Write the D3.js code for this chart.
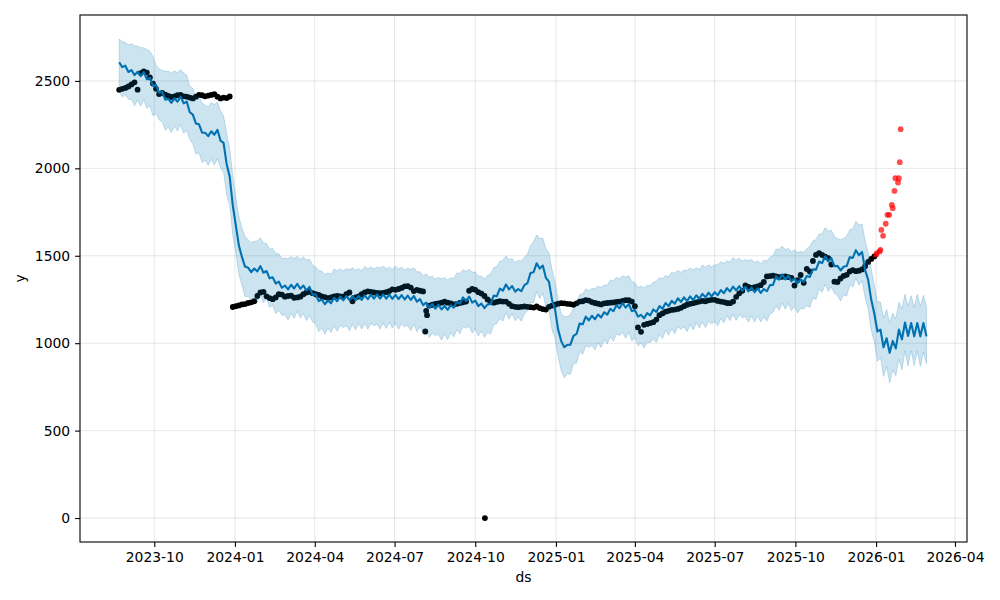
<!DOCTYPE html>
<html><head><meta charset="utf-8">
<script src="https://cdn.jsdelivr.net/npm/d3@7"></script>
<style>
body{margin:0;background:#fff}
svg{display:block}
text{font-family:"DejaVu Sans",sans-serif;font-size:13.9px;fill:#000}
</style>
</head><body>
<svg id="chart" width="1000" height="600"></svg>
<script>
// forecast grid: first ds and spacing (days) of the sampled forecast rows
const firstDs = "2023-08-22";
const stepDays = 3.5;

const yhat = [
2607,2579,2587,2551,2562,2533,2552,2527,2550,2510,
2517,2473,2477,2433,2437,2393,2397,2375,2400,2381,
2410,2372,2382,2321,2307,2256,2252,2204,2204,2184,
2212,2192,2220,2159,2146,2025,1952,1788,1672,1558,
1492,1438,1432,1406,1427,1410,1441,1403,1413,1371,
1377,1341,1352,1317,1330,1308,1334,1313,1340,1311,
1330,1302,1322,1277,1280,1241,1250,1223,1244,1228,
1260,1240,1267,1245,1270,1246,1270,1246,1270,1248,
1274,1252,1278,1255,1279,1255,1279,1255,1278,1253,
1276,1252,1275,1250,1272,1247,1270,1237,1252,1218,
1232,1204,1224,1198,1220,1193,1213,1191,1217,1203,
1237,1226,1262,1241,1267,1232,1244,1212,1227,1201,
1222,1223,1272,1268,1312,1300,1336,1308,1327,1295,
1310,1297,1332,1343,1402,1406,1457,1427,1444,1374,
1352,1248,1192,1078,1012,977,990,992,1042,1053,
1112,1108,1152,1131,1157,1137,1164,1147,1177,1163,
1197,1183,1217,1200,1230,1203,1224,1183,1190,1152,
1162,1143,1172,1159,1193,1179,1212,1197,1230,1212,
1242,1226,1257,1236,1262,1241,1268,1247,1274,1254,
1282,1262,1289,1267,1292,1274,1304,1286,1315,1296,
1324,1302,1327,1301,1322,1296,1318,1292,1314,1288,
1310,1297,1332,1333,1382,1363,1392,1365,1385,1354,
1370,1344,1365,1351,1384,1379,1422,1421,1467,1458,
1497,1468,1487,1441,1442,1416,1437,1441,1492,1488,
1532,1503,1522,1418,1362,1248,1170,1067,1078,977,
1028,945,1013,970,1078,1022,1118,1041,1115,1039,
1115,1039,1115,1039
];

const yhatUpper = [
2740,2725,2720,2706,2712,2700,2700,2690,2690,2680,
2670,2640,2590,2570,2560,2555,2555,2546,2557,2548,
2565,2545,2532,2471,2457,2406,2410,2375,2361,2351,
2377,2365,2379,2328,2302,2200,2114,1959,1829,1725,
1657,1611,1591,1575,1583,1585,1603,1574,1570,1538,
1542,1514,1511,1486,1486,1483,1496,1484,1497,1478,
1495,1475,1481,1446,1436,1416,1412,1394,1401,1395,
1425,1413,1426,1414,1426,1421,1432,1417,1427,1415,
1439,1425,1437,1424,1435,1430,1441,1426,1435,1420,
1441,1425,1434,1419,1428,1422,1432,1408,1409,1385,
1397,1377,1383,1367,1376,1368,1375,1362,1374,1370,
1402,1399,1421,1410,1423,1407,1406,1383,1384,1368,
1387,1396,1431,1437,1468,1475,1498,1479,1484,1462,
1475,1470,1491,1512,1558,1581,1619,1598,1601,1541,
1517,1421,1351,1247,1168,1152,1152,1163,1199,1220,
1277,1281,1311,1300,1313,1312,1326,1318,1334,1330,
1362,1356,1376,1369,1386,1378,1386,1354,1347,1319,
1327,1316,1331,1328,1349,1354,1374,1368,1387,1379,
1407,1399,1416,1405,1418,1416,1430,1418,1431,1421,
1447,1435,1448,1436,1448,1449,1466,1457,1472,1463,
1489,1475,1486,1470,1478,1471,1480,1463,1471,1455,
1475,1470,1491,1502,1538,1538,1554,1536,1542,1521,
1535,1517,1524,1520,1540,1554,1584,1592,1624,1625,
1662,1641,1646,1610,1598,1591,1599,1612,1649,1655,
1697,1676,1681,1587,1518,1423,1332,1238,1235,1144,
1193,1118,1172,1139,1234,1197,1280,1212,1272,1206,
1280,1212,1274,1208
];

const yhatLower = [
2447,2407,2422,2395,2393,2358,2390,2356,2393,2343,
2357,2301,2312,2277,2268,2218,2235,2204,2243,2214,
2250,2200,2217,2165,2138,2081,2090,2033,2047,2017,
2052,2020,2055,2003,1977,1850,1790,1617,1515,1391,
1332,1266,1267,1250,1258,1235,1279,1232,1256,1204,
1217,1169,1187,1161,1161,1133,1172,1142,1183,1144,
1170,1130,1157,1121,1111,1066,1088,1052,1087,1061,
1100,1068,1102,1089,1101,1071,1108,1075,1113,1081,
1114,1080,1113,1099,1110,1080,1117,1084,1121,1086,
1116,1080,1110,1094,1103,1072,1108,1066,1095,1051,
1072,1032,1059,1042,1051,1018,1051,1020,1060,1036,
1077,1054,1097,1085,1098,1057,1082,1041,1070,1034,
1062,1051,1107,1112,1143,1125,1174,1137,1170,1128,
1150,1125,1167,1187,1233,1231,1295,1256,1287,1207,
1192,1076,1027,922,843,802,828,821,885,886,
952,936,987,975,988,962,1002,976,1020,996,
1037,1011,1052,1044,1061,1028,1062,1012,1033,985,
1002,971,1007,1003,1024,1004,1050,1026,1073,1045,
1082,1054,1092,1080,1093,1066,1106,1076,1117,1087,
1122,1090,1124,1111,1123,1099,1142,1115,1158,1129,
1164,1130,1162,1145,1153,1121,1156,1121,1157,1121,
1150,1125,1167,1177,1213,1188,1230,1194,1228,1187,
1210,1172,1200,1195,1215,1204,1260,1250,1310,1291,
1337,1296,1322,1285,1273,1241,1275,1270,1335,1321,
1372,1331,1357,1262,1193,1073,1008,896,921,810,
868,773,848,814,909,847,956,870,958,872,
955,867,950,883
];

// observed history on the same grid (first 247 rows)
const observed = [
2449,2455,2460,2468,2480,2492,2450,2545,2555,2548,
2520,2485,2455,2425,2432,2422,2415,2408,2412,2418,
2420,2412,2410,2405,2400,2410,2420,2418,2412,2416,
2420,2424,2410,2400,2405,2402,2411,1207,1212,1216,
1222,1224,1230,1234,1240,1270,1290,1294,1268,1258,
1252,1262,1280,1278,1266,1270,1272,1260,1262,1266,
1280,1290,1294,1286,1280,1276,1268,1264,1258,1262,
1268,1270,1268,1266,1280,1290,1240,1262,1267,1280,
1290,1296,1294,1290,1287,1286,1288,1292,1298,1308,
1305,1310,1316,1325,1326,1318,1298,1305,1300,1296,
1185,1215,1220,1225,1228,1232,1238,1232,1228,1222,
1225,1230,1234,1238,1300,1310,1305,1292,1284,1270,
1250,1238,1232,1236,1240,1238,1238,1225,1212,1208,
1206,1208,1210,1208,1206,1204,1210,1201,1195,1192,
1208,1215,1220,1226,1229,1228,1225,1224,1220,1228,
1238,1240,1246,1244,1235,1230,1226,1222,1228,1230,
1232,1233,1236,1238,1242,1246,1246,1238,1212,1090,
1065,1105,1110,1115,1120,1135,1160,1170,1180,1185,
1190,1192,1196,1202,1212,1220,1225,1229,1234,1238,
1242,1240,1245,1248,1248,1242,1238,1235,1230,1229,
1238,1265,1285,1300,1330,1322,1316,1320,1325,1332,
1350,1382,1384,1386,1382,1378,1380,1382,1378,1374,
1330,1360,1390,1345,1425,1410,1470,1505,1515,1505,
1495,1487,1450,1352,1350,1370,1385,1391,1410,1418,
1412,1415,1422,1440,1465,1482,1496
];

const outlierDates = ["2024-08-05","2024-08-07","2024-10-12"];
const outlierValues = [1067,1160,0];

const testDates = ["2026-01-01","2026-01-02","2026-01-05","2026-01-06","2026-01-07","2026-01-09",
  "2026-01-12","2026-01-14","2026-01-16","2026-01-19","2026-01-20","2026-01-22",
  "2026-01-23","2026-01-26","2026-01-27","2026-01-28","2026-01-29"];
const testValues = [1506,1515,1525,1534,1648,1614,1683,1734,1734,1791,1772,1871,1944,1919,1944,2035,2224];

const xTickLabels = ["2023-10","2024-01","2024-04","2024-07","2024-10","2025-01","2025-04","2025-07","2025-10","2026-01","2026-04"];
const yTickValues = [0,500,1000,1500,2000,2500];

// ---------- drawing ----------
const W = 1000, H = 600;
const M = {left:80, right:967, top:15, bottom:542};
const svg = d3.select("#chart");
const parse = d3.utcParse("%Y-%m-%d");
const parseTick = d3.utcParse("%Y-%m");
const t0 = parse(firstDs).getTime();
const dayMs = 864e5;
const gridDate = i => new Date(t0 + i * stepDays * dayMs);

const x = d3.scaleUtc()
  .domain([Date.UTC(2023,6,8,7,26), Date.UTC(2026,3,14,16,20)])
  .range([M.left, M.right]);
const y = d3.scaleLinear().domain([-137, 2877]).range([M.bottom, M.top]);

const fc = yhat.map((v,i) => ({ds: gridDate(i), yhat: v, lo: yhatLower[i], hi: yhatUpper[i]}));
const hist = observed.map((v,i) => ({ds: gridDate(i), y: v}));
outlierDates.forEach((d,i) => hist.push({ds: parse(d), y: outlierValues[i]}));
const test = testDates.map((d,i) => ({ds: parse(d), y: testValues[i]}));

const tickDates = xTickLabels.map(parseTick);

// grid
const grid = svg.append("g");
grid.selectAll(".vx").data(tickDates).join("line")
  .attr("x1", d => x(d)).attr("x2", d => x(d))
  .attr("y1", M.top).attr("y2", M.bottom)
  .attr("stroke", "#808080").attr("stroke-opacity", 0.2).attr("stroke-width", 1);
grid.selectAll(".hy").data(yTickValues).join("line")
  .attr("x1", M.left).attr("x2", M.right)
  .attr("y1", d => y(d)).attr("y2", d => y(d))
  .attr("stroke", "#808080").attr("stroke-opacity", 0.2).attr("stroke-width", 1);

// observed points
svg.append("g").selectAll("circle").data(hist).join("circle")
  .attr("cx", d => x(d.ds)).attr("cy", d => y(d.y)).attr("r", 2.9)
  .attr("fill", "#000");

// yhat line
svg.append("path").datum(fc)
  .attr("d", d3.line().x(d => x(d.ds)).y(d => y(d.yhat)))
  .attr("fill", "none").attr("stroke", "#0072B2").attr("stroke-width", 2.1)
  .attr("stroke-linejoin", "round");

// uncertainty band
svg.append("path").datum(fc)
  .attr("d", d3.area().x(d => x(d.ds)).y0(d => y(d.lo)).y1(d => y(d.hi)))
  .attr("fill", "#0072B2").attr("fill-opacity", 0.2)
  .attr("stroke", "#0072B2").attr("stroke-opacity", 0.2).attr("stroke-width", 1);

// test points
svg.append("g").selectAll("circle").data(test).join("circle")
  .attr("cx", d => x(d.ds)).attr("cy", d => y(d.y)).attr("r", 2.9)
  .attr("fill", "#ff0000").attr("fill-opacity", 0.7);

// frame
svg.append("rect").attr("x", M.left).attr("y", M.top)
  .attr("width", M.right - M.left).attr("height", M.bottom - M.top)
  .attr("fill", "none").attr("stroke", "#000").attr("stroke-width", 1.1);

// x axis
const xa = svg.append("g").attr("transform", `translate(0,${M.bottom})`)
  .call(d3.axisBottom(x).tickValues(tickDates).tickFormat(d3.utcFormat("%Y-%m")).tickSize(4.9).tickPadding(4.9));
xa.select(".domain").remove();
xa.selectAll("text").attr("font-family", "DejaVu Sans").attr("font-size", "13.9px").attr("fill", "#000");
xa.selectAll("line").attr("stroke", "#000").attr("stroke-width", 1.1);

// y axis
const ya = svg.append("g").attr("transform", `translate(${M.left},0)`)
  .call(d3.axisLeft(y).tickValues(yTickValues).tickFormat(d3.format("d")).tickSize(4.9).tickPadding(4.9));
ya.select(".domain").remove();
ya.selectAll("text").attr("font-family", "DejaVu Sans").attr("font-size", "13.9px").attr("fill", "#000");
ya.selectAll("line").attr("stroke", "#000").attr("stroke-width", 1.1);

// labels
svg.append("text").attr("x", (M.left + M.right) / 2).attr("y", 582)
  .attr("text-anchor", "middle").text("ds");
svg.append("text").attr("transform", `translate(24.5,${(M.top + M.bottom) / 2}) rotate(-90)`)
  .attr("text-anchor", "middle").text("y");
</script>
</body></html>
